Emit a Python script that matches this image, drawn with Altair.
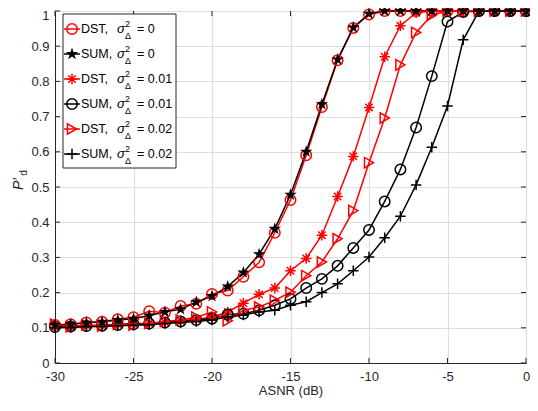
import altair as alt
import pandas as pd

snr = [-30, -29, -28, -27, -26, -25, -24, -23, -22, -21, -20, -19, -18, -17, -16,
       -15, -14, -13, -12, -11, -10, -9, -8, -7, -6, -5, -4, -3, -2, -1, 0]

dst_0 = [0.108, 0.110, 0.115, 0.117, 0.124, 0.130, 0.147, 0.143, 0.162, 0.168, 0.196,
         0.206, 0.245, 0.286, 0.370, 0.463, 0.590, 0.727, 0.860, 0.952, 0.990,
         1.0, 1.0, 1.0, 1.0, 1.0, 1.0, 1.0, 1.0, 1.0, 1.0]
sum_0 = [0.108, 0.110, 0.114, 0.117, 0.122, 0.126, 0.135, 0.145, 0.153, 0.173, 0.190,
         0.217, 0.257, 0.309, 0.381, 0.478, 0.600, 0.735, 0.862, 0.953, 0.992,
         1.0, 1.0, 1.0, 1.0, 1.0, 1.0, 1.0, 1.0, 1.0, 1.0]
dst_1 = [0.108, 0.103, 0.107, 0.108, 0.110, 0.112, 0.113, 0.116, 0.120, 0.124, 0.130,
         0.145, 0.170, 0.195, 0.213, 0.262, 0.297, 0.363, 0.473, 0.587, 0.726,
         0.870, 0.958, 0.995, 1.0, 1.0, 1.0, 1.0, 1.0, 1.0, 1.0]
sum_1 = [0.102, 0.104, 0.105, 0.106, 0.108, 0.110, 0.112, 0.115, 0.118, 0.122, 0.126,
         0.138, 0.140, 0.150, 0.164, 0.182, 0.213, 0.239, 0.276, 0.327, 0.378,
         0.459, 0.550, 0.669, 0.815, 0.970, 0.997, 1.0, 1.0, 1.0, 1.0]
dst_2 = [0.110, 0.103, 0.108, 0.105, 0.110, 0.108, 0.113, 0.118, 0.122, 0.130, 0.145,
         0.120, 0.150, 0.159, 0.178, 0.201, 0.248, 0.287, 0.353, 0.433, 0.569,
         0.696, 0.847, 0.939, 0.988, 1.0, 1.0, 1.0, 1.0, 1.0, 1.0]
sum_2 = [0.100, 0.101, 0.103, 0.104, 0.106, 0.107, 0.109, 0.112, 0.115, 0.118, 0.122,
         0.131, 0.136, 0.145, 0.150, 0.164, 0.174, 0.200, 0.225, 0.262, 0.301,
         0.356, 0.417, 0.506, 0.613, 0.730, 0.918, 0.999, 1.0, 1.0, 1.0]

series_keys = ["DST0", "SUM0", "DST1", "SUM1", "DST2", "SUM2"]
series_vals = [dst_0, sum_0, dst_1, sum_1, dst_2, sum_2]
legend_main = ["DST,", "SUM,", "DST,", "SUM,", "DST,", "SUM,"]
legend_val = ["= 0", "= 0", "= 0.01", "= 0.01", "= 0.02", "= 0.02"]
colors = ["#ff0000", "#000000", "#ff0000", "#000000", "#ff0000", "#000000"]

STAR = ("M0,-1L0.2245,-0.309L0.951,-0.309L0.363,0.118L0.588,0.809L0,0.382"
        "L-0.588,0.809L-0.363,0.118L-0.951,-0.309L-0.2245,-0.309Z")
ASTER = "M-1,0L1,0M0,-1L0,1M-0.7,-0.7L0.7,0.7M-0.7,0.7L0.7,-0.7"
PLUS = "M-1,0L1,0M0,-1L0,1"
shapes = ["circle", STAR, ASTER, "circle", "triangle-right", PLUS]

x_ticks = [-30, -25, -20, -15, -10, -5, 0]
y_ticks = [0, 0.1, 0.2, 0.3, 0.4, 0.5, 0.6, 0.7, 0.8, 0.9, 1]

W, H = 471, 352
FONT = "Liberation Sans"
AX = "#262626"

rows = []
for k, vals in zip(series_keys, series_vals):
    for xv, yv in zip(snr, vals):
        rows.append({"snr": xv, "pd": yv, "series": k})
df = pd.DataFrame(rows)

xs = alt.Scale(domain=[-30, 0], nice=False, zero=False)
ys = alt.Scale(domain=[0, 1], nice=False, zero=False)
cs = alt.Scale(domain=series_keys, range=colors)
ss = alt.Scale(domain=series_keys, range=shapes)

x_axis = alt.Axis(values=x_ticks, ticks=False, labelPadding=7, labelFlush=False,
                  labelOverlap=False,
                  labelExpr="replace(datum.label, '\u2212', '-')", grid=True,
                  title="ASNR (dB)", titlePadding=1)
y_axis = alt.Axis(values=y_ticks, ticks=False, labelPadding=6, labelFlush=False,
                  labelOverlap=False, format="~g", grid=True, title=None,
                  labelOffset={"condition": {"test": "datum.value == 1", "value": 4},
                               "value": 0})


def X(f):
    return alt.X(f, scale=xs, axis=x_axis)


def Y(f):
    return alt.Y(f, scale=ys, axis=y_axis)


base = alt.Chart(df)
lines = base.mark_line(strokeWidth=1.5).encode(
    x=X("snr:Q"), y=Y("pd:Q"),
    color=alt.Color("series:N", scale=cs, legend=None),
    detail="series:N",
)
pts_open = base.transform_filter(alt.datum.series != "SUM0").mark_point(
    filled=False, strokeWidth=1.5, size=110, opacity=1
).encode(
    x=X("snr:Q"), y=Y("pd:Q"),
    color=alt.Color("series:N", scale=cs, legend=None),
    shape=alt.Shape("series:N", scale=ss, legend=None),
)
pts_star = base.transform_filter(alt.datum.series == "SUM0").mark_point(
    filled=True, shape=STAR, size=170, color="#000000", opacity=1
).encode(x=X("snr:Q"), y=Y("pd:Q"))

xt = pd.DataFrame({"t": x_ticks})
yt = pd.DataFrame({"t": y_ticks})
tick_style = dict(color=AX, strokeWidth=1)
tick_bot = alt.Chart(xt).mark_rule(**tick_style).encode(
    x=X("t:Q"), y=alt.value(H), y2=alt.value(H - 5))
tick_top = alt.Chart(xt).mark_rule(**tick_style).encode(
    x=X("t:Q"), y=alt.value(0), y2=alt.value(5))
tick_left = alt.Chart(yt).mark_rule(**tick_style).encode(
    y=Y("t:Q"), x=alt.value(0), x2=alt.value(5))
tick_right = alt.Chart(yt).mark_rule(**tick_style).encode(
    y=Y("t:Q"), x=alt.value(W), x2=alt.value(W - 5))

# y title  P'_d
ytitle_p = alt.Chart(alt.Data(values=[{}])).mark_text(
    text="P\u2032", angle=270, font=FONT, fontSize=14, fontStyle="italic",
    align="center", baseline="middle", color=AX
).encode(x=alt.value(-36), y=alt.value(173))
ytitle_d = alt.Chart(alt.Data(values=[{}])).mark_text(
    text="d", angle=270, font=FONT, fontSize=10,
    align="center", baseline="middle", color=AX
).encode(x=alt.value(-31), y=alt.value(162))

# legend
leg = pd.DataFrame({"series": series_keys, "main": legend_main,
                    "val": legend_val, "i": list(range(6))})
legb = alt.Chart(leg).transform_calculate(
    ly="18 + 25 * datum.i", lsup="18 + 25 * datum.i - 5", lsub="18 + 25 * datum.i + 7"
)
leg_box = alt.Chart(alt.Data(values=[{}])).mark_rect(
    fill="white", stroke=AX, strokeWidth=1
).encode(x=alt.value(8), x2=alt.value(121), y=alt.value(3), y2=alt.value(157))
leg_line = legb.mark_rule(strokeWidth=1.5).encode(
    x=alt.value(9), x2=alt.value(25),
    y=alt.Y("ly:Q", scale=None, axis=None),
    color=alt.Color("series:N", scale=cs, legend=None),
)
leg_open = legb.transform_filter(alt.datum.series != "SUM0").mark_point(
    filled=False, strokeWidth=1.5, size=110, opacity=1
).encode(
    x=alt.value(17), y=alt.Y("ly:Q", scale=None, axis=None),
    color=alt.Color("series:N", scale=cs, legend=None),
    shape=alt.Shape("series:N", scale=ss, legend=None),
)
leg_star = legb.transform_filter(alt.datum.series == "SUM0").mark_point(
    filled=True, shape=STAR, size=170, color="#000000", opacity=1
).encode(x=alt.value(17), y=alt.Y("ly:Q", scale=None, axis=None))
txt = dict(font=FONT, fontSize=12.5, align="left", baseline="middle", color="#000000")
leg_main = legb.mark_text(**txt).encode(
    x=alt.value(26), y=alt.Y("ly:Q", scale=None, axis=None), text="main:N")
leg_sig = legb.mark_text(text="\u03c3", fontStyle="italic", **{**txt, "fontSize": 13}).encode(
    x=alt.value(62), y=alt.Y("ly:Q", scale=None, axis=None))
leg_sup = legb.mark_text(text="2", **{**txt, "fontSize": 9}).encode(
    x=alt.value(70), y=alt.Y("lsup:Q", scale=None, axis=None))
leg_sub = legb.mark_text(text="\u0394", **{**txt, "fontSize": 9}).encode(
    x=alt.value(70), y=alt.Y("lsub:Q", scale=None, axis=None))
leg_val = legb.mark_text(**txt).encode(
    x=alt.value(82), y=alt.Y("ly:Q", scale=None, axis=None), text="val:N")

chart = alt.layer(
    lines, pts_open, pts_star,
    tick_bot, tick_top, tick_left, tick_right,
    ytitle_p, ytitle_d,
    leg_box, leg_line, leg_open, leg_star,
    leg_main, leg_sig, leg_sup, leg_sub, leg_val,
).properties(
    width=W, height=H,
    autosize=alt.AutoSizeParams(type="none"),
    padding={"left": 47, "top": 3, "right": 4, "bottom": 35},
    background="white",
).configure_view(
    stroke=AX, strokeWidth=1
).configure_axis(
    labelFont=FONT, labelFontSize=13, labelColor=AX,
    titleFont=FONT, titleFontSize=13, titleFontWeight="normal", titleColor=AX,
    domainColor=AX, domainWidth=1,
    gridColor="#dedede", gridWidth=1.2,
)

chart.save("out.html", embed_options={"renderer": "svg", "actions": False})
